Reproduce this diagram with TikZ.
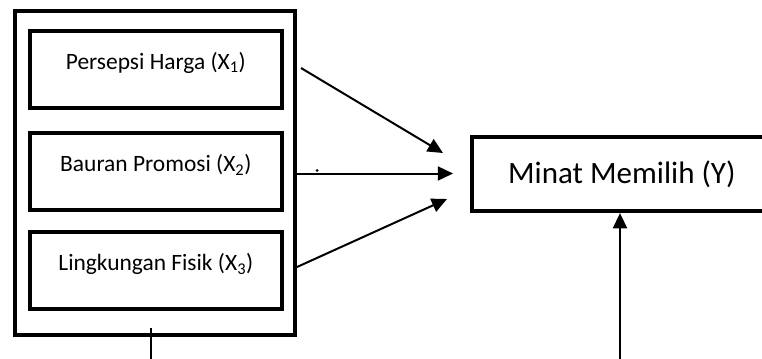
\documentclass[tikz,border=0pt]{standalone}
\usepackage{fontspec}
\setmainfont{Carlito}
\usepackage{tikz}
\usetikzlibrary{arrows.meta,positioning}

\begin{document}
\begin{tikzpicture}[x=0.03cm, y=-0.03cm]
			\tikzstyle{Group}	= [rectangle, draw, line width=3.4pt, minimum width=8.4cm, minimum height=9.72cm, inner sep=0pt]
			\tikzstyle{VarBox}	= [rectangle, draw, line width=3.4pt, minimum width=7.57cm, minimum height=2.3cm, inner sep=0pt, text height=0pt, text depth=0pt, font=\fontsize{20}{24}\selectfont]
			\tikzstyle{DepBox}	= [rectangle, draw, line width=3.6pt, minimum width=9.01cm, minimum height=2.22cm, inner sep=0pt, font=\fontsize{26.5}{30}\selectfont]
			\tikzstyle{Link}	= [line width=1.7pt, -{Triangle[length=13pt, width=12pt]}]
			\tikzstyle{Stub}	= [line width=1.7pt]
			
			\useasboundingbox (0,0) rectangle (762,358);
			
			% independent variables
			\node (grp) at (154.7, 172.9) [Group] {};
			\node (x1) at (155.85, 69.2) [VarBox] {Persepsi Harga (X\textsubscript{1})};
			\node (x2) at (155.85, 171.5) [VarBox] {Bauran Promosi (X\textsubscript{2})};
			\node (x3) at (155.85, 270.8) [VarBox] {Lingkungan Fisik (X\textsubscript{3})};
			
			% dependent variable
			\node (y) at (621.9, 174) [DepBox] {Minat Memilih (Y)};
			
			% free ends
			\coordinate (s1) at (301, 68);
			\coordinate (e1) at (443, 153);
			\coordinate (s2) at (297, 173.5);
			\coordinate (e2) at (453, 173.5);
			\coordinate (s3) at (297, 267);
			\coordinate (e3) at (447, 199);
			\coordinate (b1) at (151, 328);
			\coordinate (b2) at (151, 362);
			\coordinate (b3) at (620, 362);
			
			\draw [Link] (s1) to (e1);
			\draw [Link] (s2) to (e2);
			\draw [Link] (s3) to (e3);
			\draw [Stub] (b1) to (b2);
			\draw [Link] (b3) to (y.south -| b3);
			
			\fill (317, 170.5) circle (1.5);
		\end{tikzpicture}
\end{document}
